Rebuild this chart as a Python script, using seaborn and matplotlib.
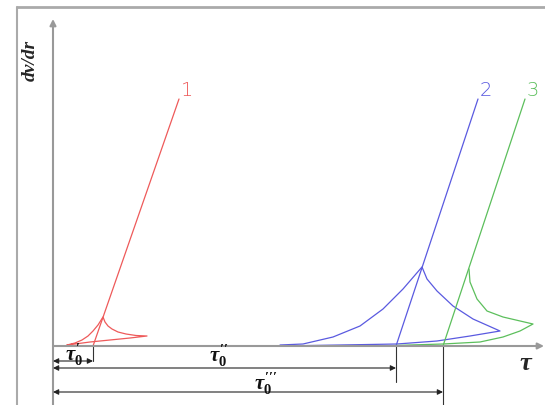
import matplotlib
matplotlib.use('Agg')
import matplotlib.pyplot as plt
import seaborn as sns

sns.set_theme(style='white')
plt.rcParams['mathtext.fontset'] = 'custom'
plt.rcParams['mathtext.rm'] = 'Liberation Serif:bold'
plt.rcParams['mathtext.it'] = 'Liberation Serif:italic:bold'

# curve 1 (red)
line1_tau = [40, 126]
line1_rate = [0, 247]
loop1_tau = [14, 22, 29, 35, 40, 45, 50, 52, 55, 59, 65, 73, 83, 94, 77, 57, 37, 22, 14]
loop1_rate = [1, 3, 6, 10, 15, 21, 29, 24, 20, 17, 14, 12, 10.5, 10, 8, 6, 4, 2, 1]

# curve 2 (blue)
line2_tau = [343, 425]
line2_rate = [0, 247]
loop2_tau = [227, 250, 280, 307, 330, 350, 369, 374, 384, 400, 420, 447, 417, 384, 344, 287, 227]
loop2_rate = [1, 2, 9, 20, 37, 57, 79, 67, 55, 40, 27, 15, 10, 5, 2, 1, 0]

# curve 3 (green)
line3_tau = [390, 472]
line3_rate = [0, 247]
loop3_tau = [416, 417, 424, 434, 450, 480, 467, 450, 427, 390, 357, 330]
loop3_rate = [77, 64, 47, 35, 29, 22, 15, 9, 4, 2, 1, 0]

curve_labels = ['1', '2', '3']
colors = ['#ee5a5a', '#5a5ae0', '#5cbf5c']

# dimension values tau0', tau0'', tau0'''
tau0 = [40, 343, 390]
tau0_labels = [r"$\tau_0^{\prime}$", r"$\tau_0^{\prime\prime}$", r"$\tau_0^{\prime\prime\prime}$"]

fig = plt.figure(figsize=(5.45, 4.06), dpi=100)
ax = fig.add_axes([0, 0, 1, 1])
ax.set_xlim(-53, 492)
ax.set_ylim(-59, 347)
ax.axis('off')

# page frame
ax.plot([-36, 492], [339, 339], color='#aaaaaa', lw=2)
ax.plot([-36, -36], [339, -59], color='#aaaaaa', lw=1.5)

# axes with arrows
ax.annotate('', xy=(0, 327), xytext=(0, -59),
            arrowprops=dict(arrowstyle='-|>', color='#999999', lw=1.5, mutation_scale=9, shrinkA=0, shrinkB=0))
ax.annotate('', xy=(491, 0), xytext=(0, 0),
            arrowprops=dict(arrowstyle='-|>', color='#999999', lw=1.5, mutation_scale=9, shrinkA=0, shrinkB=0))

lines = [(line1_tau, line1_rate), (line2_tau, line2_rate), (line3_tau, line3_rate)]
loops = [(loop1_tau, loop1_rate), (loop2_tau, loop2_rate), (loop3_tau, loop3_rate)]
for (lx, ly), (px, py), c, lab in zip(lines, loops, colors, curve_labels):
    sns.lineplot(x=lx, y=ly, sort=False, estimator=None, color=c, lw=0.9, ax=ax)
    sns.lineplot(x=px, y=py, sort=False, estimator=None, color=c, lw=0.9, ax=ax)
    ax.text(lx[1] + 8, ly[1] + 10, lab, color=c, fontsize=14, fontweight='light',
            ha='center', va='center', family='DejaVu Sans')

# dimension lines
dim_y = [-15, -22, -46]
ext_bottom = [-15, -36, -59]
lab_pos = [(21, -8), (166, -9), (213, -37)]
for t, yy, eb, lab, (lx, ly) in zip(tau0, dim_y, ext_bottom, tau0_labels, lab_pos):
    ax.plot([t, t], [0, eb], color='#333333', lw=0.8)
    ax.annotate('', xy=(t, yy), xytext=(0, yy),
                arrowprops=dict(arrowstyle='<|-|>', color='#222222', lw=0.8, mutation_scale=8, shrinkA=0, shrinkB=0))
    ax.text(lx, ly, lab, fontsize=15, ha='center', va='center', color='#111111')

ax.text(473, -16, r"$\tau$", fontsize=19, ha='center', va='center')
ax.text(-23, 287, 'dv/dr', fontsize=14, rotation=90, ha='center', va='center',
        family='Liberation Serif', style='italic', fontweight='bold')

fig.savefig('out.png', dpi=100)
